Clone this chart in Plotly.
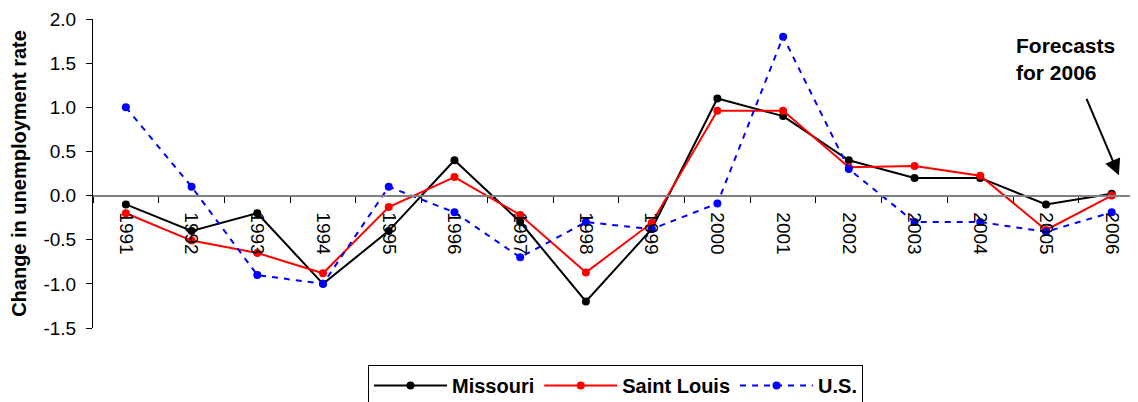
import plotly.graph_objects as go

years = [str(y) for y in range(1991, 2007)]
missouri = [-0.1, -0.4, -0.2, -1.0, -0.4, 0.4, -0.3, -1.2, -0.38, 1.1, 0.9, 0.4, 0.2, 0.2, -0.1, 0.02]
saint_louis = [-0.2, -0.51, -0.65, -0.88, -0.13, 0.21, -0.22, -0.87, -0.31, 0.96, 0.96, 0.32, 0.335, 0.225, -0.39, 0.0]
us = [1.0, 0.1, -0.9, -1.0, 0.1, -0.19, -0.7, -0.3, -0.38, -0.09, 1.8, 0.3, -0.3, -0.3, -0.41, -0.19]

y_ticks = [2.0, 1.5, 1.0, 0.5, 0.0, -0.5, -1.0, -1.5]
y_min, y_max = -1.5, 2.0

font_family = "Liberation Sans, Arial, sans-serif"

fig = go.Figure()
fig.add_trace(go.Scatter(x=years, y=missouri, name="Missouri", mode="lines+markers",
                         line=dict(color="black", width=2), marker=dict(color="black", size=8)))
fig.add_trace(go.Scatter(x=years, y=saint_louis, name="Saint Louis", mode="lines+markers",
                         line=dict(color="#FF0000", width=2), marker=dict(color="#FF0000", size=8)))
fig.add_trace(go.Scatter(x=years, y=us, name="U.S.", mode="lines+markers",
                         line=dict(color="#0000FF", width=2, dash="6px,6px"), marker=dict(color="#0000FF", size=8)))

fig.add_annotation(x=15.11, y=0.23, xref="x", yref="y", text="", showarrow=True,
                   ax=-33, ay=-78, arrowhead=2, arrowsize=1.6, arrowwidth=2, arrowcolor="black")
fig.add_annotation(x=14.3, y=1.55, xref="x", yref="y", text="<b>Forecasts<br>for 2006</b>",
                   showarrow=False, align="left", xanchor="center", yanchor="middle",
                   font=dict(family=font_family, size=21, color="black"))

fig.update_layout(
    width=1130, height=394,
    margin=dict(l=85, r=0, t=11, b=74, autoexpand=False),
    paper_bgcolor="white", plot_bgcolor="white",
    font=dict(family=font_family, color="black"),
    showlegend=True,
    legend=dict(orientation="h", x=0.5, xanchor="center", y=-0.12, yanchor="top",
                bordercolor="black", borderwidth=1, itemwidth=73,
                font=dict(family=font_family, size=20, color="black", weight="bold")),
    xaxis=dict(type="category", range=[-0.5, 15.4], anchor="free",
               position=(0 - y_min) / (y_max - y_min),
               showline=True, linecolor="#808080", linewidth=2,
               ticks="outside", tickson="boundaries", ticklen=6, tickcolor="black", tickwidth=1,
               tickangle=90, showgrid=False, zeroline=False, automargin=False,
               ticklabelstandoff=12,
               tickfont=dict(family=font_family, size=19, color="black")),
    yaxis=dict(range=[y_min, y_max], tickvals=y_ticks, ticktext=[f"{v:.1f}" for v in y_ticks],
               showline=True, linecolor="black", linewidth=1, ticks="outside", ticklen=6,
               tickcolor="black", showgrid=False, zeroline=False, automargin=False,
               ticklabelstandoff=6,
               tickfont=dict(family=font_family, size=19, color="black"),
               title=dict(text="<b>Change in unemployment rate</b>", standoff=14,
                          font=dict(family=font_family, size=20, color="black"))),
)

fig.write_html("out.html")
